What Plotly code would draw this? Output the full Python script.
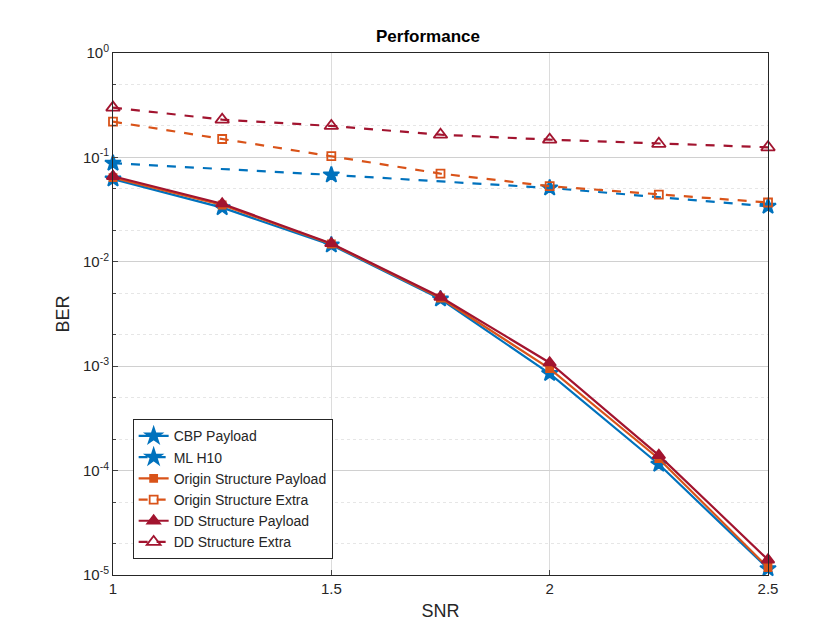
import plotly.graph_objects as go

snr = [1, 1.25, 1.5, 1.75, 2, 2.25, 2.5]
snr_ml = [1, 1.5, 2, 2.5]
cbp = [0.062, 0.033, 0.0145, 0.0044, 0.00085, 0.000115, 0.0000115]
ml = [0.088, 0.068, 0.051, 0.034]
orig_pay = [0.064, 0.035, 0.0148, 0.0045, 0.00095, 0.00013, 0.0000118]
orig_ext = [0.22, 0.15, 0.103, 0.07, 0.053, 0.044, 0.037]
dd_pay = [0.066, 0.036, 0.015, 0.0046, 0.00108, 0.00014, 0.000014]
dd_ext = [0.30, 0.23, 0.20, 0.165, 0.148, 0.135, 0.125]

B, O, R = "#0072BD", "#D95319", "#A2142F"
fig = go.Figure()
def add(x, y, name, c, dash, sym, size):
    fig.add_trace(go.Scatter(x=x, y=y, name=name, mode="lines+markers", cliponaxis=False,
        line=dict(color=c, width=2.2, dash=dash),
        marker=dict(symbol=sym, size=size, color=c, line=dict(color=c, width=1.8))))
add(snr, cbp, "CBP Payload", B, "solid", "star", 12)
add(snr_ml, ml, "ML H10", B, "dash", "star", 12)
add(snr, orig_pay, "Origin Structure Payload", O, "solid", "square", 7)
add(snr, orig_ext, "Origin Structure Extra", O, "dash", "square-open", 8)
add(snr, dd_pay, "DD Structure Payload", R, "solid", "triangle-up", 11)
add(snr, dd_ext, "DD Structure Extra", R, "dash", "triangle-up-open", 12)

fig.update_layout(
    width=840, height=630, paper_bgcolor="white", plot_bgcolor="white",
    margin=dict(l=105, r=80, t=45, b=63),
    font=dict(family="Liberation Sans, Arial", size=15, color="#262626"),
    title=dict(text="<b>Performance</b>", x=0.5, xanchor="center", y=0.965, font=dict(size=17, color="black")),
    legend=dict(x=0.03, y=0.03, xanchor="left", yanchor="bottom", bordercolor="#262626",
                borderwidth=1, bgcolor="white", font=dict(size=14), tracegroupgap=0),
    xaxis=dict(title=dict(text="SNR", standoff=8), range=[1, 2.5], tickvals=[1, 1.5, 2, 2.5],
               showgrid=True, gridcolor="#dcdcdc", showline=True, mirror=True, linecolor="#262626",
               ticks="inside", zeroline=False),
    yaxis=dict(title=dict(text="BER", standoff=8), type="log", range=[-5, 0],
               tickvals=[1e-5, 1e-4, 1e-3, 1e-2, 1e-1, 1],
               ticktext=["10<sup>-5</sup>", "10<sup>-4</sup>", "10<sup>-3</sup>", "10<sup>-2</sup>", "10<sup>-1</sup>", "10<sup>0</sup>"],
               showgrid=True, gridcolor="#d0d0d0", showline=True, mirror=True, linecolor="#262626",
               ticks="inside", minor=dict(showgrid=True, gridcolor="#e6e6e6", griddash="dot", ticks="inside", ticklen=3)),
)
fig.write_html("out.html")
